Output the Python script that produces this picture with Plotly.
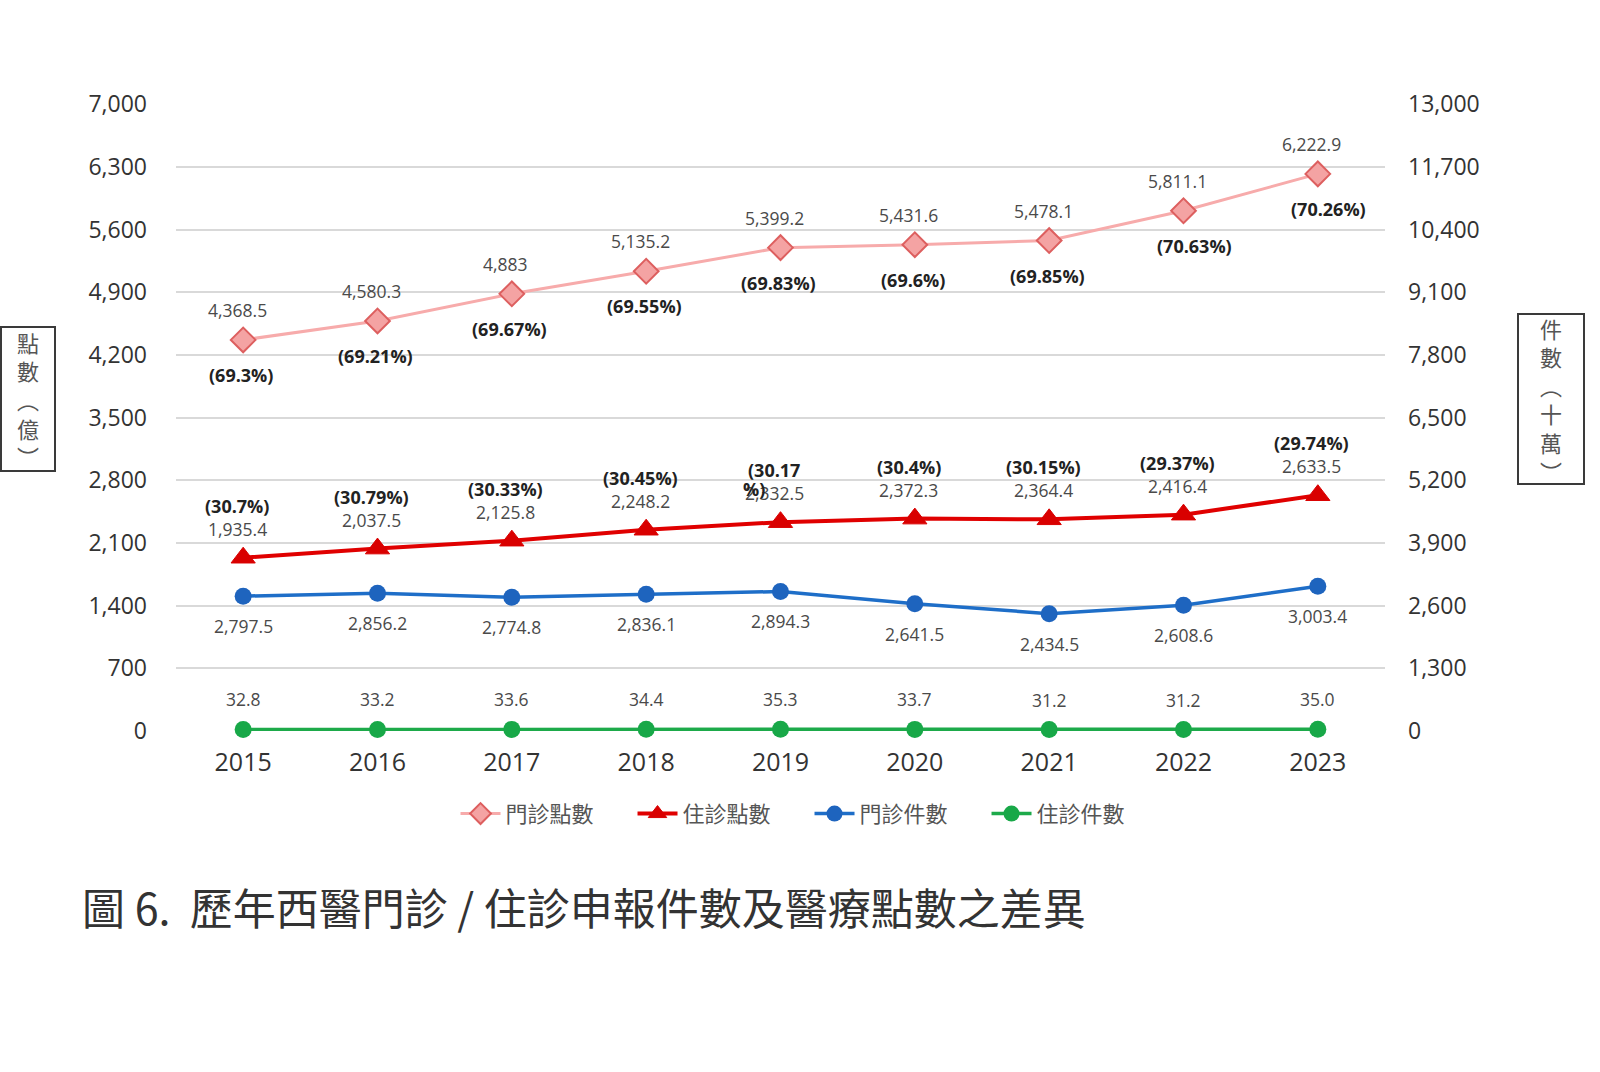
import plotly.graph_objects as go

years = ["2015", "2016", "2017", "2018", "2019", "2020", "2021", "2022", "2023"]
out_points = [4368.5, 4580.3, 4883, 5135.2, 5399.2, 5431.6, 5478.1, 5811.1, 6222.9]
out_pct = [69.3, 69.21, 69.67, 69.55, 69.83, 69.6, 69.85, 70.63, 70.26]
in_points = [1935.4, 2037.5, 2125.8, 2248.2, 2332.5, 2372.3, 2364.4, 2416.4, 2633.5]
in_pct = [30.7, 30.79, 30.33, 30.45, 30.17, 30.4, 30.15, 29.37, 29.74]
out_cases = [2797.5, 2856.2, 2774.8, 2836.1, 2894.3, 2641.5, 2434.5, 2608.6, 3003.4]
in_cases = [32.8, 33.2, 33.6, 34.4, 35.3, 33.7, 31.2, 31.2, 35.0]

left_ticks = [0, 700, 1400, 2100, 2800, 3500, 4200, 4900, 5600, 6300, 7000]
right_ticks = [0, 1300, 2600, 3900, 5200, 6500, 7800, 9100, 10400, 11700, 13000]

names = ["門診點數", "住診點數", "門診件數", "住診件數"]
title_text = "圖 6.&nbsp;&nbsp;歷年西醫門診 / 住診申報件數及醫療點數之差異"
left_title = "點<br>數<br>︵<br>億<br>︶"
right_title = "件<br>數<br>︵<br>十<br>萬<br>︶"

NUM_FONT = "Open Sans, Liberation Sans, Arial, sans-serif"
CJK_FONT = "Noto Sans CJK TC, Noto Sans CJK SC, sans-serif"
VAL_COLOR = "#4a4a4a"
PCT_COLOR = "#222222"

PAD = 1.0005  # tiny headroom so the top gridline is drawn
fig = go.Figure()

fig.add_trace(go.Scatter(
    x=years, y=out_points, name=names[0], mode="lines+markers",
    line=dict(color="#F7ABAB", width=3),
    marker=dict(symbol="diamond", size=19, color="#F4A3A3",
                line=dict(color="#DD5F5F", width=2)),
    cliponaxis=False))
fig.add_trace(go.Scatter(
    x=years, y=in_points, name=names[1], mode="lines+markers",
    line=dict(color="#E00000", width=4),
    marker=dict(symbol="triangle-up", size=21, color="#D90000",
                line=dict(color="#D90000", width=1)),
    cliponaxis=False))
fig.add_trace(go.Scatter(
    x=years, y=out_cases, name=names[2], mode="lines+markers", yaxis="y2",
    line=dict(color="#1E6EC8", width=3.5),
    marker=dict(symbol="circle", size=17, color="#1E64BE"),
    cliponaxis=False))
fig.add_trace(go.Scatter(
    x=years, y=in_cases, name=names[3], mode="lines+markers", yaxis="y2",
    line=dict(color="#1DAA4A", width=3.5),
    marker=dict(symbol="circle", size=17, color="#18A848"),
    cliponaxis=False))

ann = []
def lab(i, y, text, yshift, xshift=0, yref="y", bold=False, color=VAL_COLOR, size=17.5):
    ann.append(dict(x=i, y=y, xref="x", yref=yref, text=(f"<b>{text}</b>" if bold else text),
                    showarrow=False, yshift=yshift, xshift=xshift,
                    font=dict(family=NUM_FONT, size=size, color=color)))

for i in range(len(years)):
    v = out_points[i]
    lab(i, v, f"{v:,g}", 30, -6)
    lab(i, v, f"({out_pct[i]:g}%)", -35, -2 if i < 7 else 11, bold=True, color=PCT_COLOR, size=18)

for i in range(len(years)):
    v = in_points[i]
    lab(i, v, f"{v:,.1f}", 29, -6)
    if years[i] == "2019":
        s = f"({in_pct[i]:g}%)"
        lab(i, v, s[:-2], 52, -7, bold=True, color=PCT_COLOR, size=18)
        lab(i, v, s[-2:], 33, -27, bold=True, color=PCT_COLOR, size=18)
    else:
        lab(i, v, f"({in_pct[i]:g}%)", 52, -6, bold=True, color=PCT_COLOR, size=18)

for i in range(len(years)):
    lab(i, out_cases[i], f"{out_cases[i]:,.1f}", -30, 0, yref="y2")
    lab(i, in_cases[i], f"{in_cases[i]:,.1f}", 30, 0, yref="y2")

ann.append(dict(x=-0.079, y=-0.279, xref="paper", yref="paper", xanchor="left", yanchor="middle",
                text=title_text, showarrow=False,
                font=dict(family=CJK_FONT, size=43, color="#333333")))
ann.append(dict(x=-0.1225, y=0.53, xref="paper", yref="paper", xanchor="center", yanchor="middle",
                text=left_title, showarrow=False, align="center",
                width=48, height=138, bordercolor="#3a3a3a", borderwidth=2, borderpad=2,
                font=dict(family=CJK_FONT, size=22, color="#555555")))
ann.append(dict(x=1.1372, y=0.53, xref="paper", yref="paper", xanchor="center", yanchor="middle",
                text=right_title, showarrow=False, align="center",
                width=60, height=164, bordercolor="#3a3a3a", borderwidth=2, borderpad=2,
                font=dict(family=CJK_FONT, size=22, color="#555555")))

fig.update_layout(
    width=1600, height=1072,
    margin=dict(l=176, r=215, t=104, b=341),
    paper_bgcolor="white", plot_bgcolor="white",
    showlegend=True,
    legend=dict(orientation="h", x=0.524, y=-0.132, xanchor="center", yanchor="middle",
                font=dict(family=CJK_FONT, size=22, color="#555555"),
                entrywidth=122, entrywidthmode="pixels", itemwidth=40, tracegroupgap=0),
    xaxis=dict(type="category", range=[-0.5, 8.5], showgrid=False, zeroline=False,
               showline=False, ticks="", tickfont=dict(family=NUM_FONT, size=25, color="#333333"),
               ticklabelstandoff=14),
    yaxis=dict(range=[0, 7000 * PAD], tickvals=left_ticks, tickformat=",",
               showgrid=True, gridcolor="#D9D9D9", gridwidth=2, zeroline=False,
               showline=False, ticks="", ticklabelstandoff=28,
               tickfont=dict(family=NUM_FONT, size=23, color="#333333")),
    yaxis2=dict(range=[0, 13000 * PAD], tickvals=right_ticks, tickformat=",", overlaying="y",
                side="right", showgrid=False, zeroline=False, showline=False, ticks="",
                ticklabelstandoff=22,
                tickfont=dict(family=NUM_FONT, size=23, color="#333333")),
    annotations=ann,
)

fig.write_html("out.html")
